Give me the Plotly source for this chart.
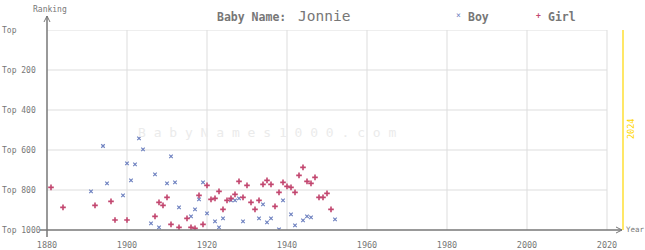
import plotly.graph_objects as go

# ---------------- data ----------------
boy_years = [1891, 1894, 1895, 1899, 1900, 1901, 1902, 1903, 1904, 1906,
             1907, 1908, 1910, 1911, 1912, 1913, 1916, 1917, 1918, 1919,
             1920, 1922, 1923, 1924, 1926, 1927, 1928, 1929, 1933, 1934,
             1935, 1936, 1938, 1939, 1941, 1942, 1944, 1945, 1946, 1952]
boy_ranks = [807, 580, 767, 827, 667, 752, 672, 542, 597, 967,
             722, 987, 767, 632, 762, 887, 932, 897, 847, 762,
             917, 957, 987, 942, 852, 852, 842, 957, 942, 872,
             962, 942, 997, 852, 922, 977, 952, 932, 937, 947]

girl_years = [1881, 1884, 1892, 1896, 1897, 1900, 1907, 1908, 1909, 1910,
              1911, 1913, 1915, 1916, 1917, 1918, 1919, 1920, 1921, 1922,
              1923, 1924, 1925, 1926, 1927, 1928, 1929, 1930, 1931, 1932,
              1933, 1934, 1935, 1936, 1937, 1938, 1939, 1940, 1941, 1942,
              1943, 1944, 1945, 1946, 1947, 1948, 1949, 1950, 1951]
girl_ranks = [787, 887, 877, 857, 950, 950, 932, 862, 877, 837,
              972, 987, 942, 987, 992, 827, 972, 777, 847, 842,
              807, 897, 852, 842, 822, 757, 837, 777, 862, 897,
              852, 772, 752, 772, 882, 812, 762, 782, 787, 812,
              727, 687, 757, 767, 737, 837, 837, 817, 897]

x_ticks = [1880, 1900, 1920, 1940, 1960, 1980, 2000, 2020]
y_ticks = [0, 200, 400, 600, 800, 1000]
y_tick_labels = ["Top", "Top 200", "Top 400", "Top 600", "Top 800", "Top 1000"]
current_year = 2024

title_label = "Baby Name:"
title_name = "Jonnie"
series_names = ["Boy", "Girl"]

# ---------------- style ----------------
W, H = 645, 250
L, T = 47, 30
PW, PH = 584, 200
X0, X1 = 1880, 2026
Y0, Y1 = 1000, 0
FONT = "DejaVu Sans Mono"
GRAY = "#777777"
GRID = "#dddddd"
BOY_C = "#6f82c0"
GIRL_C = "#c2466f"


def px(x):
    return (x - L) / PW


def py(y):
    return (T + PH - y) / PH


fig = go.Figure()

fig.add_trace(go.Scatter(
    x=boy_years, y=boy_ranks, mode="markers", name=series_names[0],
    marker=dict(symbol="x-thin", size=3.5, line=dict(width=1.2, color=BOY_C), color=BOY_C),
    showlegend=False, hoverinfo="x+y"))
fig.add_trace(go.Scatter(
    x=girl_years, y=girl_ranks, mode="markers", name=series_names[1],
    marker=dict(symbol="cross-thin", size=4, line=dict(width=1.6, color=GIRL_C), color=GIRL_C),
    showlegend=False, hoverinfo="x+y"))

shapes = []
# vertical grid
for xv in x_ticks[1:]:
    shapes.append(dict(type="line", xref="x", yref="y", x0=xv, x1=xv, y0=0, y1=1000,
                       line=dict(color=GRID, width=1), layer="below"))
# horizontal grid
for yv in y_ticks[:-1]:
    shapes.append(dict(type="line", xref="x", yref="y", x0=x_ticks[0], x1=x_ticks[-1], y0=yv, y1=yv,
                       line=dict(color=GRID, width=1), layer="below"))
# current year line
shapes.append(dict(type="line", xref="x", yref="y", x0=current_year, x1=current_year, y0=0, y1=1000,
                   line=dict(color="#ffd700", width=1.2), layer="above"))
# axes
shapes.append(dict(type="line", xref="paper", yref="paper", x0=0, x1=0, y0=py(237), y1=py(16),
                   line=dict(color=GRAY, width=1.5)))
shapes.append(dict(type="line", xref="paper", yref="paper", x0=px(40), x1=px(622), y0=0, y1=0,
                   line=dict(color=GRAY, width=1.5)))
# arrowheads
shapes.append(dict(type="path", xref="paper", yref="paper",
                   path=f"M {px(44)} {py(22)} L {px(47)} {py(16)} L {px(50)} {py(22)}",
                   line=dict(color=GRAY, width=1)))
shapes.append(dict(type="path", xref="paper", yref="paper",
                   path=f"M {px(616)} {py(227)} L {px(622)} {py(230)} L {px(616)} {py(233)}",
                   line=dict(color=GRAY, width=1)))

annotations = []
# watermark
annotations.append(dict(xref="paper", yref="paper", x=px(136), y=py(132), xanchor="left", yanchor="middle",
                        text=" ".join("BabyNames1000.com"), showarrow=False,
                        font=dict(family=FONT, size=13, color="#ebebeb")))
# y tick labels
for yv, lab in zip(y_ticks, y_tick_labels):
    annotations.append(dict(xref="paper", yref="y", x=px(0), y=yv, xanchor="left", yanchor="middle",
                            text=lab, showarrow=False, font=dict(family=FONT, size=8, color=GRAY)))
# axis titles
annotations.append(dict(xref="paper", yref="paper", x=px(31), y=py(9), xanchor="left", yanchor="middle",
                        text="Ranking", showarrow=False, font=dict(family=FONT, size=8, color=GRAY)))
annotations.append(dict(xref="paper", yref="paper", x=px(624), y=py(229), xanchor="left", yanchor="middle",
                        text="Year", showarrow=False, font=dict(family=FONT, size=7.5, color=GRAY)))
# current year label
annotations.append(dict(xref="paper", yref="paper", x=px(631), y=py(129), xanchor="center", yanchor="middle",
                        text=str(current_year), textangle=-90, showarrow=False,
                        font=dict(family=FONT, size=8.5, color="#ffd700")))
# title
annotations.append(dict(xref="paper", yref="paper", x=px(215), y=py(17), xanchor="left", yanchor="middle",
                        text=f"<b>{title_label}</b>", showarrow=False,
                        font=dict(family=FONT, size=11.5, color=GRAY)))
annotations.append(dict(xref="paper", yref="paper", x=px(296), y=py(16), xanchor="left", yanchor="middle",
                        text=title_name, showarrow=False,
                        font=dict(family=FONT, size=14.5, color=GRAY)))
# legend
annotations.append(dict(xref="paper", yref="paper", x=px(458), y=py(15), xanchor="center", yanchor="middle",
                        text="×", showarrow=False, font=dict(family=FONT, size=8, color=BOY_C)))
annotations.append(dict(xref="paper", yref="paper", x=px(466), y=py(17), xanchor="left", yanchor="middle",
                        text=f"<b>{series_names[0]}</b>", showarrow=False,
                        font=dict(family=FONT, size=11.5, color=GRAY)))
annotations.append(dict(xref="paper", yref="paper", x=px(538), y=py(15), xanchor="center", yanchor="middle",
                        text="<b>+</b>", showarrow=False, font=dict(family=FONT, size=8, color=GIRL_C)))
annotations.append(dict(xref="paper", yref="paper", x=px(546), y=py(17), xanchor="left", yanchor="middle",
                        text=f"<b>{series_names[1]}</b>", showarrow=False,
                        font=dict(family=FONT, size=11.5, color=GRAY)))

fig.update_layout(
    width=W, height=H,
    margin=dict(l=L, r=W - L - PW, t=T, b=H - T - PH, pad=0),
    paper_bgcolor="white", plot_bgcolor="white",
    showlegend=False,
    shapes=shapes, annotations=annotations,
    xaxis=dict(range=[X0, X1], tickvals=x_ticks, ticktext=[str(v) for v in x_ticks],
               showgrid=False, zeroline=False, showline=False, ticks="",
               ticklabelstandoff=8, automargin=False,
               tickfont=dict(family=FONT, size=8.5, color=GRAY)),
    yaxis=dict(range=[Y0, Y1], showgrid=False, zeroline=False, showline=False,
               showticklabels=False, ticks="", automargin=False),
)

fig.write_html("out.html")
